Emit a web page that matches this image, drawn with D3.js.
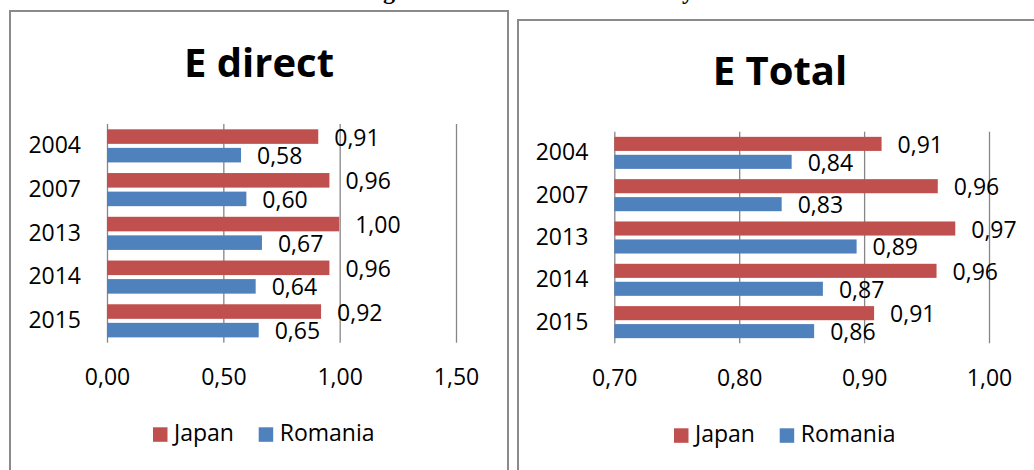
<!DOCTYPE html>
<html>
<head>
<meta charset="utf-8">
<script src="https://cdnjs.cloudflare.com/ajax/libs/d3/7.8.5/d3.min.js"></script>
<style>
  html, body { margin: 0; padding: 0; background: #fff; }
  svg { display: block; }
  text { font-family: "Open Sans", sans-serif; fill: #000; }
</style>
</head>
<body>
<svg id="chart" width="1034" height="470"></svg>
<script>
// categories and series
var years = ["2004", "2007", "2013", "2014", "2015"];
var series = ["Japan", "Romania"];
var colors = ["#C0504D", "#4F81BD"];

// E direct
var directJapan = [0.908, 0.956, 0.998, 0.956, 0.920];
var directRomania = [0.576, 0.599, 0.666, 0.639, 0.652];
var directTicks = [0, 0.5, 1.0, 1.5];

// E Total
var totalJapan = [0.914, 0.959, 0.973, 0.958, 0.908];
var totalRomania = [0.842, 0.834, 0.894, 0.867, 0.860];
var totalTicks = [0.7, 0.8, 0.9, 1.0];

var svg = d3.select("#chart");
var fmt = function(v) { return d3.format(".2f")(v).replace(".", ","); };
var fs = "23px";

// heading line above the charts, cut off by the top edge as in the source
svg.append("text").attr("x", 389).attr("y", -1)
  .attr("text-anchor", "middle")
  .style("font-family", "Liberation Serif").style("font-weight", "bold").style("font-size", "24px")
  .text("g");
svg.append("text").attr("x", 688).attr("y", -1)
  .attr("text-anchor", "middle")
  .style("font-family", "Liberation Serif").style("font-weight", "bold").style("font-size", "24px")
  .text("y");

function drawPanel(opt) {
  var g = svg.append("g");

  g.append("rect")
    .attr("x", opt.box[0]).attr("y", opt.box[1])
    .attr("width", opt.box[2]).attr("height", opt.box[3])
    .attr("fill", "#fff").attr("stroke", "#8a8a8a").attr("stroke-width", 2);

  var cx = opt.box[0] + opt.box[2] / 2;
  if (opt.centerX) cx = opt.centerX;

  g.append("text")
    .attr("x", cx).attr("y", opt.titleY)
    .attr("text-anchor", "middle")
    .style("font-weight", "bold").style("font-size", "40px")
    .text(opt.title);

  var x = d3.scaleLinear().domain(opt.domain).range(opt.xRange);
  var y0 = d3.scaleBand().domain(years).range(opt.yRange);
  var y1 = d3.scaleBand().domain(series).range([0, y0.bandwidth()])
    .paddingInner(0.216).paddingOuter(0.286);

  // gridlines + tick labels
  var xAxis = g.append("g")
    .attr("transform", "translate(0," + opt.yRange[0] + ")")
    .call(d3.axisBottom(x).tickValues(opt.ticks).tickFormat(fmt)
      .tickSize(opt.yRange[1] - opt.yRange[0]));
  xAxis.select(".domain").remove();
  xAxis.selectAll(".tick line").attr("stroke", "#868686").attr("stroke-width", 1.3);
  xAxis.selectAll(".tick text")
    .attr("y", opt.tickBaseline - opt.yRange[0]).attr("dy", 0)
    .style("font-size", fs).style("font-family", "Open Sans");

  // year labels
  var yAxis = g.append("g")
    .attr("transform", "translate(" + opt.xRange[0] + ",0)")
    .call(d3.axisLeft(y0).tickSize(0).tickPadding(26));
  yAxis.select(".domain").remove();
  yAxis.selectAll(".tick text")
    .style("font-size", fs).style("font-family", "Open Sans");

  var rows = years.map(function(yr, i) {
    return { year: yr, vals: [
      { s: "Japan", v: opt.japan[i], c: colors[0] },
      { s: "Romania", v: opt.romania[i], c: colors[1] }
    ] };
  });

  var grp = g.selectAll(".yr").data(rows).enter().append("g")
    .attr("transform", function(d) { return "translate(0," + y0(d.year) + ")"; });

  grp.selectAll("rect").data(function(d) { return d.vals; }).enter().append("rect")
    .attr("x", x(opt.domain[0]))
    .attr("y", function(d) { return y1(d.s); })
    .attr("width", function(d) { return x(d.v) - x(opt.domain[0]); })
    .attr("height", y1.bandwidth())
    .attr("fill", function(d) { return d.c; });

  grp.selectAll(".lbl").data(function(d) { return d.vals; }).enter().append("text")
    .attr("class", "lbl")
    .attr("x", function(d) { return x(d.v) + 16; })
    .attr("y", function(d) { return y1(d.s) + y1.bandwidth() / 2 + 9; })
    .style("font-size", fs)
    .text(function(d) { return fmt(d.v); });

  // legend
  var lg = g.append("g").attr("transform", "translate(" + (cx - 106) + "," + opt.legendY + ")");
  var item = lg.selectAll("g").data(series).enter().append("g")
    .attr("transform", function(d, i) { return "translate(" + (i * 105.7) + ",0)"; });
  item.append("rect").attr("width", 14.5).attr("height", 14.5)
    .attr("fill", function(d, i) { return colors[i]; });
  item.append("text").attr("x", 21).attr("y", 14)
    .style("font-size", fs)
    .text(function(d) { return d; });
}

drawPanel({
  title: "E direct",
  box: [10, 11, 498, 500],
  titleY: 77,
  domain: [0, 1.5],
  ticks: directTicks,
  xRange: [107, 456],
  yRange: [124, 342.7],
  tickBaseline: 384.5,
  legendY: 427.3,
  japan: directJapan,
  romania: directRomania
});

drawPanel({
  title: "E Total",
  box: [518, 20, 530, 500],
  centerX: 780,
  titleY: 85,
  domain: [0.7, 1.0],
  ticks: totalTicks,
  xRange: [614.3, 989],
  yRange: [131.7, 343.3],
  tickBaseline: 386.5,
  legendY: 428.3,
  japan: totalJapan,
  romania: totalRomania
});
</script>
</body>
</html>
